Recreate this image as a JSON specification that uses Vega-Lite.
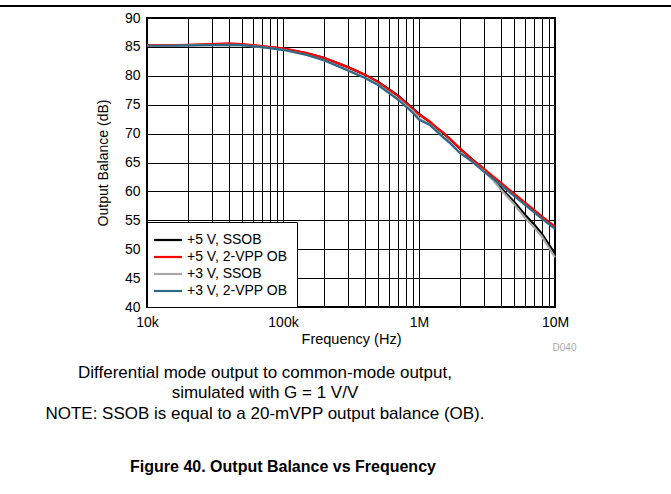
{
  "$schema": "https://vega.github.io/schema/vega-lite/v6.json",
  "autosize": "none",
  "width": 408,
  "height": 289,
  "padding": {"left": 147, "top": 18, "right": 116, "bottom": 187},
  "background": "white",
  "config": {
    "font": "Liberation Sans",
    "view": {"stroke": "black", "strokeWidth": 2},
    "axis": {"labelFont": "Liberation Sans", "titleFont": "Liberation Sans", "labelColor": "black", "titleColor": "black"}
  },
  "resolve": {"axis": {"x": "independent", "y": "independent"}},
  "datasets": {
    "curves": [
      {"f": 10000, "db": 85.3, "s": "+5 V, SSOB"},
      {"f": 15000, "db": 85.3, "s": "+5 V, SSOB"},
      {"f": 20000, "db": 85.3, "s": "+5 V, SSOB"},
      {"f": 30000, "db": 85.4, "s": "+5 V, SSOB"},
      {"f": 40000, "db": 85.5, "s": "+5 V, SSOB"},
      {"f": 50000, "db": 85.4, "s": "+5 V, SSOB"},
      {"f": 70000, "db": 85.1, "s": "+5 V, SSOB"},
      {"f": 100000, "db": 84.7, "s": "+5 V, SSOB"},
      {"f": 150000, "db": 83.9, "s": "+5 V, SSOB"},
      {"f": 200000, "db": 83.1, "s": "+5 V, SSOB"},
      {"f": 300000, "db": 81.5, "s": "+5 V, SSOB"},
      {"f": 400000, "db": 80.2, "s": "+5 V, SSOB"},
      {"f": 500000, "db": 79.0, "s": "+5 V, SSOB"},
      {"f": 700000, "db": 76.6, "s": "+5 V, SSOB"},
      {"f": 1000000, "db": 73.4, "s": "+5 V, SSOB"},
      {"f": 1200000, "db": 72.0, "s": "+5 V, SSOB"},
      {"f": 1500000, "db": 70.1, "s": "+5 V, SSOB"},
      {"f": 1700000, "db": 69.0, "s": "+5 V, SSOB"},
      {"f": 2000000, "db": 67.4, "s": "+5 V, SSOB"},
      {"f": 2200000, "db": 66.6, "s": "+5 V, SSOB"},
      {"f": 2500000, "db": 65.4, "s": "+5 V, SSOB"},
      {"f": 3000000, "db": 63.9, "s": "+5 V, SSOB"},
      {"f": 3500000, "db": 62.3, "s": "+5 V, SSOB"},
      {"f": 4000000, "db": 60.6, "s": "+5 V, SSOB"},
      {"f": 5000000, "db": 58.2, "s": "+5 V, SSOB"},
      {"f": 6000000, "db": 56.0, "s": "+5 V, SSOB"},
      {"f": 7000000, "db": 54.3, "s": "+5 V, SSOB"},
      {"f": 8000000, "db": 52.7, "s": "+5 V, SSOB"},
      {"f": 10000000, "db": 49.2, "s": "+5 V, SSOB"},

      {"f": 10000, "db": 85.3, "s": "+5 V, 2-VPP OB"},
      {"f": 15000, "db": 85.3, "s": "+5 V, 2-VPP OB"},
      {"f": 20000, "db": 85.35, "s": "+5 V, 2-VPP OB"},
      {"f": 30000, "db": 85.5, "s": "+5 V, 2-VPP OB"},
      {"f": 40000, "db": 85.6, "s": "+5 V, 2-VPP OB"},
      {"f": 50000, "db": 85.5, "s": "+5 V, 2-VPP OB"},
      {"f": 70000, "db": 85.15, "s": "+5 V, 2-VPP OB"},
      {"f": 100000, "db": 84.75, "s": "+5 V, 2-VPP OB"},
      {"f": 150000, "db": 83.95, "s": "+5 V, 2-VPP OB"},
      {"f": 200000, "db": 83.1, "s": "+5 V, 2-VPP OB"},
      {"f": 300000, "db": 81.5, "s": "+5 V, 2-VPP OB"},
      {"f": 400000, "db": 80.2, "s": "+5 V, 2-VPP OB"},
      {"f": 500000, "db": 78.9, "s": "+5 V, 2-VPP OB"},
      {"f": 700000, "db": 76.5, "s": "+5 V, 2-VPP OB"},
      {"f": 1000000, "db": 73.3, "s": "+5 V, 2-VPP OB"},
      {"f": 1200000, "db": 72.1, "s": "+5 V, 2-VPP OB"},
      {"f": 1300000, "db": 71.3, "s": "+5 V, 2-VPP OB"},
      {"f": 1500000, "db": 70.2, "s": "+5 V, 2-VPP OB"},
      {"f": 1700000, "db": 69.0, "s": "+5 V, 2-VPP OB"},
      {"f": 2000000, "db": 67.4, "s": "+5 V, 2-VPP OB"},
      {"f": 2200000, "db": 66.5, "s": "+5 V, 2-VPP OB"},
      {"f": 2500000, "db": 65.3, "s": "+5 V, 2-VPP OB"},
      {"f": 2800000, "db": 64.5, "s": "+5 V, 2-VPP OB"},
      {"f": 3000000, "db": 63.9, "s": "+5 V, 2-VPP OB"},
      {"f": 3500000, "db": 62.6, "s": "+5 V, 2-VPP OB"},
      {"f": 4000000, "db": 61.5, "s": "+5 V, 2-VPP OB"},
      {"f": 5000000, "db": 59.6, "s": "+5 V, 2-VPP OB"},
      {"f": 6000000, "db": 58.1, "s": "+5 V, 2-VPP OB"},
      {"f": 7000000, "db": 56.8, "s": "+5 V, 2-VPP OB"},
      {"f": 8000000, "db": 55.7, "s": "+5 V, 2-VPP OB"},
      {"f": 10000000, "db": 53.9, "s": "+5 V, 2-VPP OB"},

      {"f": 10000, "db": 85.2, "s": "+3 V, SSOB"},
      {"f": 15000, "db": 85.2, "s": "+3 V, SSOB"},
      {"f": 20000, "db": 85.25, "s": "+3 V, SSOB"},
      {"f": 30000, "db": 85.3, "s": "+3 V, SSOB"},
      {"f": 40000, "db": 85.35, "s": "+3 V, SSOB"},
      {"f": 50000, "db": 85.3, "s": "+3 V, SSOB"},
      {"f": 70000, "db": 84.95, "s": "+3 V, SSOB"},
      {"f": 100000, "db": 84.5, "s": "+3 V, SSOB"},
      {"f": 150000, "db": 83.6, "s": "+3 V, SSOB"},
      {"f": 200000, "db": 82.7, "s": "+3 V, SSOB"},
      {"f": 300000, "db": 81.0, "s": "+3 V, SSOB"},
      {"f": 400000, "db": 79.7, "s": "+3 V, SSOB"},
      {"f": 500000, "db": 78.5, "s": "+3 V, SSOB"},
      {"f": 700000, "db": 76.0, "s": "+3 V, SSOB"},
      {"f": 900000, "db": 73.9, "s": "+3 V, SSOB"},
      {"f": 1000000, "db": 72.6, "s": "+3 V, SSOB"},
      {"f": 1200000, "db": 71.6, "s": "+3 V, SSOB"},
      {"f": 1500000, "db": 69.5, "s": "+3 V, SSOB"},
      {"f": 1700000, "db": 68.4, "s": "+3 V, SSOB"},
      {"f": 2000000, "db": 66.7, "s": "+3 V, SSOB"},
      {"f": 2200000, "db": 66.0, "s": "+3 V, SSOB"},
      {"f": 2500000, "db": 65.0, "s": "+3 V, SSOB"},
      {"f": 3000000, "db": 63.5, "s": "+3 V, SSOB"},
      {"f": 3500000, "db": 62.0, "s": "+3 V, SSOB"},
      {"f": 4000000, "db": 60.3, "s": "+3 V, SSOB"},
      {"f": 5000000, "db": 57.8, "s": "+3 V, SSOB"},
      {"f": 6000000, "db": 55.5, "s": "+3 V, SSOB"},
      {"f": 7000000, "db": 53.8, "s": "+3 V, SSOB"},
      {"f": 8000000, "db": 52.2, "s": "+3 V, SSOB"},
      {"f": 10000000, "db": 48.6, "s": "+3 V, SSOB"},

      {"f": 10000, "db": 85.2, "s": "+3 V, 2-VPP OB"},
      {"f": 15000, "db": 85.2, "s": "+3 V, 2-VPP OB"},
      {"f": 20000, "db": 85.25, "s": "+3 V, 2-VPP OB"},
      {"f": 30000, "db": 85.3, "s": "+3 V, 2-VPP OB"},
      {"f": 40000, "db": 85.35, "s": "+3 V, 2-VPP OB"},
      {"f": 50000, "db": 85.3, "s": "+3 V, 2-VPP OB"},
      {"f": 70000, "db": 84.95, "s": "+3 V, 2-VPP OB"},
      {"f": 100000, "db": 84.5, "s": "+3 V, 2-VPP OB"},
      {"f": 150000, "db": 83.6, "s": "+3 V, 2-VPP OB"},
      {"f": 200000, "db": 82.7, "s": "+3 V, 2-VPP OB"},
      {"f": 300000, "db": 80.9, "s": "+3 V, 2-VPP OB"},
      {"f": 400000, "db": 79.6, "s": "+3 V, 2-VPP OB"},
      {"f": 500000, "db": 78.4, "s": "+3 V, 2-VPP OB"},
      {"f": 700000, "db": 75.9, "s": "+3 V, 2-VPP OB"},
      {"f": 900000, "db": 73.6, "s": "+3 V, 2-VPP OB"},
      {"f": 1000000, "db": 72.4, "s": "+3 V, 2-VPP OB"},
      {"f": 1200000, "db": 71.5, "s": "+3 V, 2-VPP OB"},
      {"f": 1500000, "db": 69.4, "s": "+3 V, 2-VPP OB"},
      {"f": 1700000, "db": 68.3, "s": "+3 V, 2-VPP OB"},
      {"f": 2000000, "db": 66.6, "s": "+3 V, 2-VPP OB"},
      {"f": 2200000, "db": 66.0, "s": "+3 V, 2-VPP OB"},
      {"f": 2500000, "db": 65.0, "s": "+3 V, 2-VPP OB"},
      {"f": 3000000, "db": 63.4, "s": "+3 V, 2-VPP OB"},
      {"f": 3500000, "db": 62.2, "s": "+3 V, 2-VPP OB"},
      {"f": 4000000, "db": 61.1, "s": "+3 V, 2-VPP OB"},
      {"f": 5000000, "db": 59.2, "s": "+3 V, 2-VPP OB"},
      {"f": 6000000, "db": 57.7, "s": "+3 V, 2-VPP OB"},
      {"f": 7000000, "db": 56.4, "s": "+3 V, 2-VPP OB"},
      {"f": 8000000, "db": 55.3, "s": "+3 V, 2-VPP OB"},
      {"f": 10000000, "db": 53.5, "s": "+3 V, 2-VPP OB"}
    ]
  },
  "layer": [
    {
      "data": {"name": "curves"},
      "mark": {"type": "line", "strokeWidth": 2.2},
      "encoding": {
        "x": {
          "field": "f",
          "type": "quantitative",
          "scale": {"type": "log", "domain": [10000, 10000000], "nice": false},
          "axis": {
            "title": "Frequency (Hz)",
            "titleFontSize": 14.5,
            "titleFontWeight": "normal",
            "titlePadding": 3,
            "labelFontSize": 14,
            "labelPadding": 8,
            "labelFlush": false,
            "labelOverlap": false,
            "ticks": false,
            "domain": false,
            "grid": true,
            "gridColor": "black",
            "gridOpacity": 1,
            "gridWidth": 1,
            "values": [10000, 20000, 30000, 40000, 50000, 60000, 70000, 80000, 90000, 100000, 200000, 300000, 400000, 500000, 600000, 700000, 800000, 900000, 1000000, 2000000, 3000000, 4000000, 5000000, 6000000, 7000000, 8000000, 9000000, 10000000],
            "labelExpr": "datum.value == 10000 ? '10k' : datum.value == 100000 ? '100k' : datum.value == 1000000 ? '1M' : datum.value == 10000000 ? '10M' : ''"
          }
        },
        "y": {
          "field": "db",
          "type": "quantitative",
          "scale": {"domain": [40, 90], "nice": false, "zero": false},
          "axis": {
            "title": "Output Balance (dB)",
            "titleFontSize": 14,
            "titleFontWeight": "normal",
            "titlePadding": 14,
            "labelFontSize": 14,
            "labelPadding": 7,
            "labelOverlap": false,
            "ticks": false,
            "domain": false,
            "grid": true,
            "gridColor": "black",
            "gridOpacity": 1,
            "gridWidth": 1,
            "values": [40, 45, 50, 55, 60, 65, 70, 75, 80, 85, 90]
          }
        },
        "color": {
          "field": "s",
          "type": "nominal",
          "sort": ["+5 V, SSOB", "+5 V, 2-VPP OB", "+3 V, SSOB", "+3 V, 2-VPP OB"],
          "scale": {
            "domain": ["+5 V, SSOB", "+5 V, 2-VPP OB", "+3 V, SSOB", "+3 V, 2-VPP OB"],
            "range": ["#000000", "#ff0000", "#a6a6a6", "#2f6988"]
          },
          "legend": {
            "title": null,
            "orient": "bottom-left",
            "offset": 0,
            "padding": 9,
            "rowPadding": 1,
            "fillColor": "white",
            "strokeColor": "black",
            "symbolType": "M-1.87,0L1.87,0",
            "symbolSize": 225,
            "symbolOffset": 3,
            "symbolStrokeWidth": 2.2,
            "labelFontSize": 14,
            "labelFont": "Liberation Sans",
            "labelColor": "black",
            "labelOffset": 10
          }
        }
      }
    },
    {
      "data": {"values": [{}]},
      "mark": {"type": "rule", "strokeWidth": 2, "color": "black"},
      "encoding": {
        "x": {"datum": 830, "type": "quantitative", "axis": null},
        "x2": {"datum": 71300000},
        "y": {"datum": 92.08, "type": "quantitative", "axis": null}
      }
    },
    {
      "data": {"values": [{}]},
      "mark": {"type": "text", "fontSize": 10, "color": "#aaaaaa", "align": "center", "baseline": "alphabetic"},
      "encoding": {
        "x": {"datum": 11750000, "type": "quantitative", "axis": null},
        "y": {"datum": 32.4, "type": "quantitative", "axis": null},
        "text": {"value": "D040"}
      }
    },
    {
      "data": {"values": [{}]},
      "mark": {"type": "text", "fontSize": 17, "color": "black", "align": "center", "baseline": "alphabetic", "lineHeight": 20.5},
      "encoding": {
        "x": {"datum": 73700, "type": "quantitative", "axis": null},
        "y": {"datum": 27.72, "type": "quantitative", "axis": null},
        "text": {"value": ["Differential mode output to common-mode output,", "simulated with G = 1 V/V", "NOTE: SSOB is equal to a 20-mVPP output balance (OB)."]}
      }
    },
    {
      "data": {"values": [{}]},
      "mark": {"type": "text", "fontSize": 16, "fontWeight": "bold", "color": "black", "align": "center", "baseline": "alphabetic"},
      "encoding": {
        "x": {"datum": 100000, "type": "quantitative", "axis": null},
        "y": {"datum": 11.45, "type": "quantitative", "axis": null},
        "text": {"value": "Figure 40. Output Balance vs Frequency"}
      }
    }
  ]
}
